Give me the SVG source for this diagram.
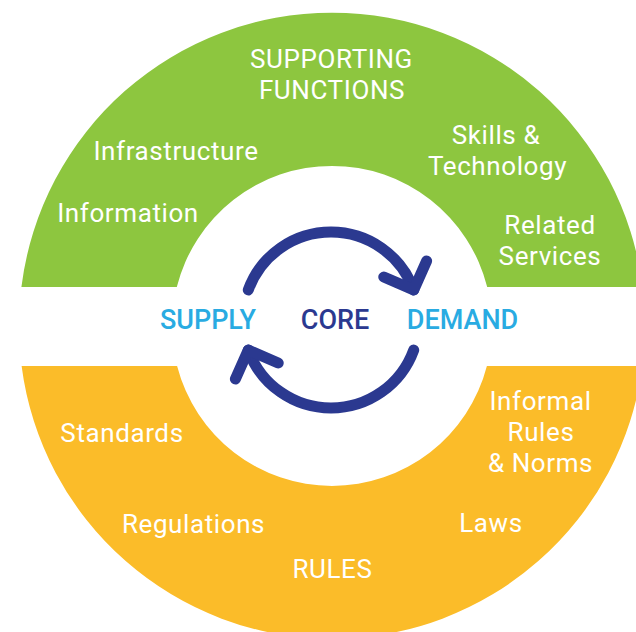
<svg xmlns="http://www.w3.org/2000/svg" width="636" height="632" viewBox="0 0 636 632">
<defs>
<style>
.ring-green{fill:#8DC63F}
.ring-orange{fill:#FBBC29}
.lbl{font-family:Roboto,"Liberation Sans",sans-serif;font-size:26px;letter-spacing:0.6px;fill:#ffffff;text-anchor:middle}
.core{font-family:Roboto,"Liberation Sans",sans-serif;font-size:27px;font-weight:500;text-anchor:middle}
.blue{fill:#29ABE2}
.navy{fill:#2B3990}
.arc{fill:none;stroke:#2B3990;stroke-width:11;stroke-linecap:round;stroke-linejoin:round}
</style>
</defs>
<rect width="636" height="632" fill="#ffffff"/>
<g id="supporting-functions">
<path class="ring-green" d="M21.4,287 A313,313 0 0 1 642.6,287 L487.2,287 A160,160 0 0 0 176.8,287 Z"/>
<text class="lbl"><tspan x="331.5" y="67.5">SUPPORTING</tspan><tspan x="332" y="98.5">FUNCTIONS</tspan></text>
</g>
<g id="infrastructure"><text class="lbl" x="176" y="160">Infrastructure</text></g>
<g id="information"><text class="lbl" x="128" y="222">Information</text></g>
<g id="skills-technology"><text class="lbl"><tspan x="496" y="143.5">Skills &amp;</tspan><tspan x="497.5" y="174.5">Technology</tspan></text></g>
<g id="related-services"><text class="lbl"><tspan x="550" y="233.5">Related</tspan><tspan x="550" y="264.5">Services</tspan></text></g>
<g id="rules">
<path class="ring-orange" d="M21.6,366 L177.1,366 A160,160 0 0 0 486.9,366 L642.4,366 A313,313 0 0 1 21.6,366 Z"/>
<text class="lbl" x="332.5" y="578">RULES</text>
</g>
<g id="standards"><text class="lbl" x="122" y="442">Standards</text></g>
<g id="regulations"><text class="lbl" x="193.5" y="533">Regulations</text></g>
<g id="informal-rules"><text class="lbl"><tspan x="540.5" y="410">Informal</tspan><tspan x="541" y="441">Rules</tspan><tspan x="540.5" y="472">&amp; Norms</tspan></text></g>
<g id="laws"><text class="lbl" x="491" y="532">Laws</text></g>
<g id="supply"><text class="core blue" x="208" y="328.5">SUPPLY</text></g>
<g id="core"><text class="core navy" x="335" y="328.5">CORE</text></g>
<g id="demand"><text class="core blue" x="462.5" y="328.5">DEMAND</text></g>
<g id="connectors">
<path class="arc" d="M248.3,289.9 A88,88 0 0 1 413.7,289.9"/>
<path class="arc" d="M383.8,277 L413.7,289.9 L426.6,261"/>
<path class="arc" d="M413.7,350.1 A88,88 0 0 1 248.3,350.1"/>
<path class="arc" d="M278.2,363 L248.3,350.1 L235.4,379"/>
</g>
</svg>
